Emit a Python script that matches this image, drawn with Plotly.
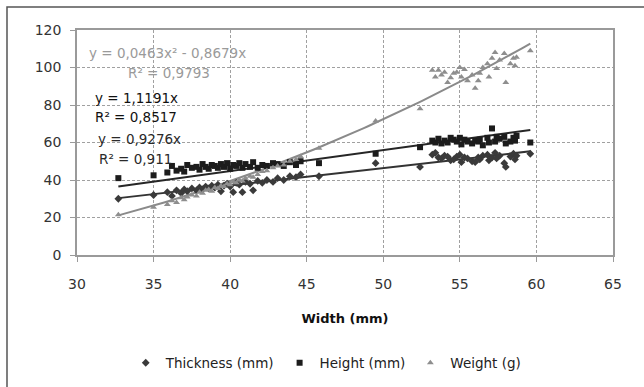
import numpy as np
import plotly.graph_objects as go

# ---- data ----
width_mm = [32.7, 35.0, 35.9, 36.2, 36.5, 36.8, 37.0, 37.2, 37.5, 37.8, 38.0, 38.2, 38.4, 38.6,
            38.8, 39.0, 39.2, 39.4, 39.6, 39.8, 40.0, 40.2, 40.4, 40.6, 40.8, 41.0, 41.3, 41.5,
            41.8, 42.1, 42.4, 42.8, 43.1, 43.5, 43.9, 44.3, 44.6, 45.8, 49.5, 52.4,
            53.2, 53.4, 53.6, 53.8, 54.0, 54.2, 54.4, 54.6, 54.8, 55.0, 55.1, 55.3, 55.5, 55.8,
            56.0, 56.2, 56.3, 56.5, 56.8, 56.9, 57.1, 57.3, 57.4, 57.6, 57.9, 58.0, 58.3, 58.5,
            58.6, 58.7, 59.6]
thickness_mm = [30.0, 32.0, 33.5, 31.5, 34.5, 33.0, 35.0, 34.0, 35.5, 34.5, 36.0, 35.0, 36.5, 35.5,
                37.0, 36.0, 37.5, 34.0, 37.0, 38.0, 36.5, 33.5, 38.5, 37.5, 33.5, 39.0, 38.0, 34.5,
                39.5, 38.5, 40.0, 39.0, 41.0, 40.0, 42.0, 41.5, 43.0, 42.0, 49.0, 47.0,
                53.5, 54.5, 52.0, 51.5, 53.0, 52.5, 50.5, 51.0, 52.5, 53.5, 49.5, 52.0, 51.5, 50.0,
                49.5, 52.0, 51.0, 53.0, 53.5, 50.5, 52.0, 54.5, 51.5, 53.0, 49.0, 47.0, 52.5, 54.0,
                51.0, 53.0, 54.0]
height_mm = [41.0, 42.5, 44.0, 47.5, 45.0, 46.0, 44.5, 48.0, 46.5, 47.0, 45.5, 48.5, 47.0, 46.0,
             48.0, 47.5, 46.5, 48.5, 47.0, 49.0, 46.0, 48.0, 47.5, 49.0, 46.5, 48.5, 47.0, 49.5,
             46.5, 48.0, 47.5, 49.0, 48.5, 47.5, 49.5, 48.0, 50.0, 49.0, 54.0, 57.5,
             61.0, 60.0, 62.0, 59.5, 61.0, 60.0, 62.5, 61.5, 60.5, 62.5, 59.0, 61.5, 60.5, 59.5,
             61.0, 60.5, 61.5, 58.5, 62.5, 60.0, 67.5, 60.5, 63.0, 62.0, 63.0, 59.5, 60.5, 62.5,
             61.0, 63.5, 60.0]
weight_g = [21.5, 25.5, 27.0, 29.0, 28.0, 30.5, 29.5, 31.0, 32.0, 31.5, 33.5, 33.0, 34.5, 35.0,
            34.0, 36.0, 35.5, 37.0, 36.5, 38.0, 37.5, 39.0, 38.5, 40.0, 39.5, 41.0, 42.0, 41.5,
            43.0, 44.5, 45.0, 46.5, 47.5, 48.0, 50.0, 51.0, 52.5, 57.0, 71.5, 78.0,
            98.5, 95.0, 98.5, 96.0, 97.5, 92.0, 94.5, 97.0, 97.5, 100.0, 95.0, 99.0, 93.0, 96.0,
            89.0, 93.0, 97.0, 100.0, 102.0, 95.0, 105.0, 108.0, 99.5, 104.0, 107.5, 92.0, 102.0,
            105.0, 101.0, 105.5, 109.0]

# trendline coefficients shown on the chart (highest power first)
thick_coef = [0.9276, 0.0]
height_coef = [1.1191, 0.0]
weight_coef = [0.0463, -0.8679, 0.0]

eq_texts = ["y = 0,0463x² - 0,8679x", "R² = 0,9793",
            "y = 1,1191x", "R² = 0,8517",
            "y = 0,9276x", "R² = 0,911"]

x_ticks = [30, 35, 40, 45, 50, 55, 60, 65]
y_ticks = [0, 20, 40, 60, 80, 100, 120]

# ---- figure ----
FONT = "DejaVu Sans"
c_thick = "#3a3a3a"
c_height = "#1c1c1c"
c_weight = "#8e8e8e"

fig = go.Figure()
xs = np.linspace(min(width_mm), max(width_mm), 100)

fig.add_trace(go.Scatter(x=xs, y=np.polyval(thick_coef, xs), mode="lines",
                         line=dict(color="#333333", width=2), showlegend=False, hoverinfo="skip"))
fig.add_trace(go.Scatter(x=xs, y=np.polyval(height_coef, xs), mode="lines",
                         line=dict(color="#262626", width=2), showlegend=False, hoverinfo="skip"))
fig.add_trace(go.Scatter(x=xs, y=np.polyval(weight_coef, xs), mode="lines",
                         line=dict(color="#8a8a8a", width=2), showlegend=False, hoverinfo="skip"))

fig.add_trace(go.Scatter(x=width_mm, y=thickness_mm, mode="markers", name="Thickness (mm)",
                         marker=dict(symbol="diamond", size=6, color=c_thick)))
fig.add_trace(go.Scatter(x=width_mm, y=height_mm, mode="markers", name="Height (mm)",
                         marker=dict(symbol="square", size=6, color=c_height)))
fig.add_trace(go.Scatter(x=width_mm, y=weight_g, mode="markers", name="Weight (g)",
                         marker=dict(symbol="triangle-up", size=6, color=c_weight)))

ann_pos = [(35.94, 107.7), (36.0, 97.0), (33.9, 83.7), (33.85, 73.6), (34.05, 61.9), (33.85, 51.2)]
ann_col = ["#9a9a9a", "#9a9a9a", "#111111", "#111111", "#2a2a2a", "#2a2a2a"]
for t, (ax, ay), col in zip(eq_texts, ann_pos, ann_col):
    fig.add_annotation(x=ax, y=ay, text=t, showarrow=False,
                       font=dict(family=FONT, size=13.5, color=col), xanchor="center", yanchor="middle")

# outer frame of the chart
fig.add_shape(type="rect", xref="paper", yref="paper", x0=-0.1306, x1=1.3, y0=-0.8, y1=1.102,
              line=dict(color="#555555", width=1.5), layer="below")

axis_common = dict(showline=True, linecolor="#9a9a9a", linewidth=1.5, mirror=True,
                   showgrid=True, gridcolor="#a0a0a0", griddash="3px,2px", gridwidth=1,
                   ticks="outside", ticklen=5, tickcolor="#9a9a9a", zeroline=False,
                   automargin=False,
                   tickfont=dict(family=FONT, size=14, color="#333333"))

fig.update_xaxes(range=[30, 65], tickvals=x_ticks, ticklabelstandoff=10,
                 title=dict(text="<b>Width (mm)</b>", font=dict(family=FONT, size=13, color="#111111"),
                            standoff=23),
                 **axis_common)
fig.update_yaxes(range=[0, 120], tickvals=y_ticks, ticklabelstandoff=6, **axis_common)

fig.update_layout(
    width=644, height=387, autosize=False,
    margin=dict(l=77, r=31, t=30, b=132, autoexpand=False),
    plot_bgcolor="white", paper_bgcolor="white",
    font=dict(family=FONT, size=13.5, color="#222222"),
    legend=dict(orientation="h", x=0.465, xanchor="center", y=-0.48, yanchor="middle",
                font=dict(family=FONT, size=13.5, color="#222222"),
                itemwidth=30, tracegroupgap=0),
)

fig.write_html("out.html")
